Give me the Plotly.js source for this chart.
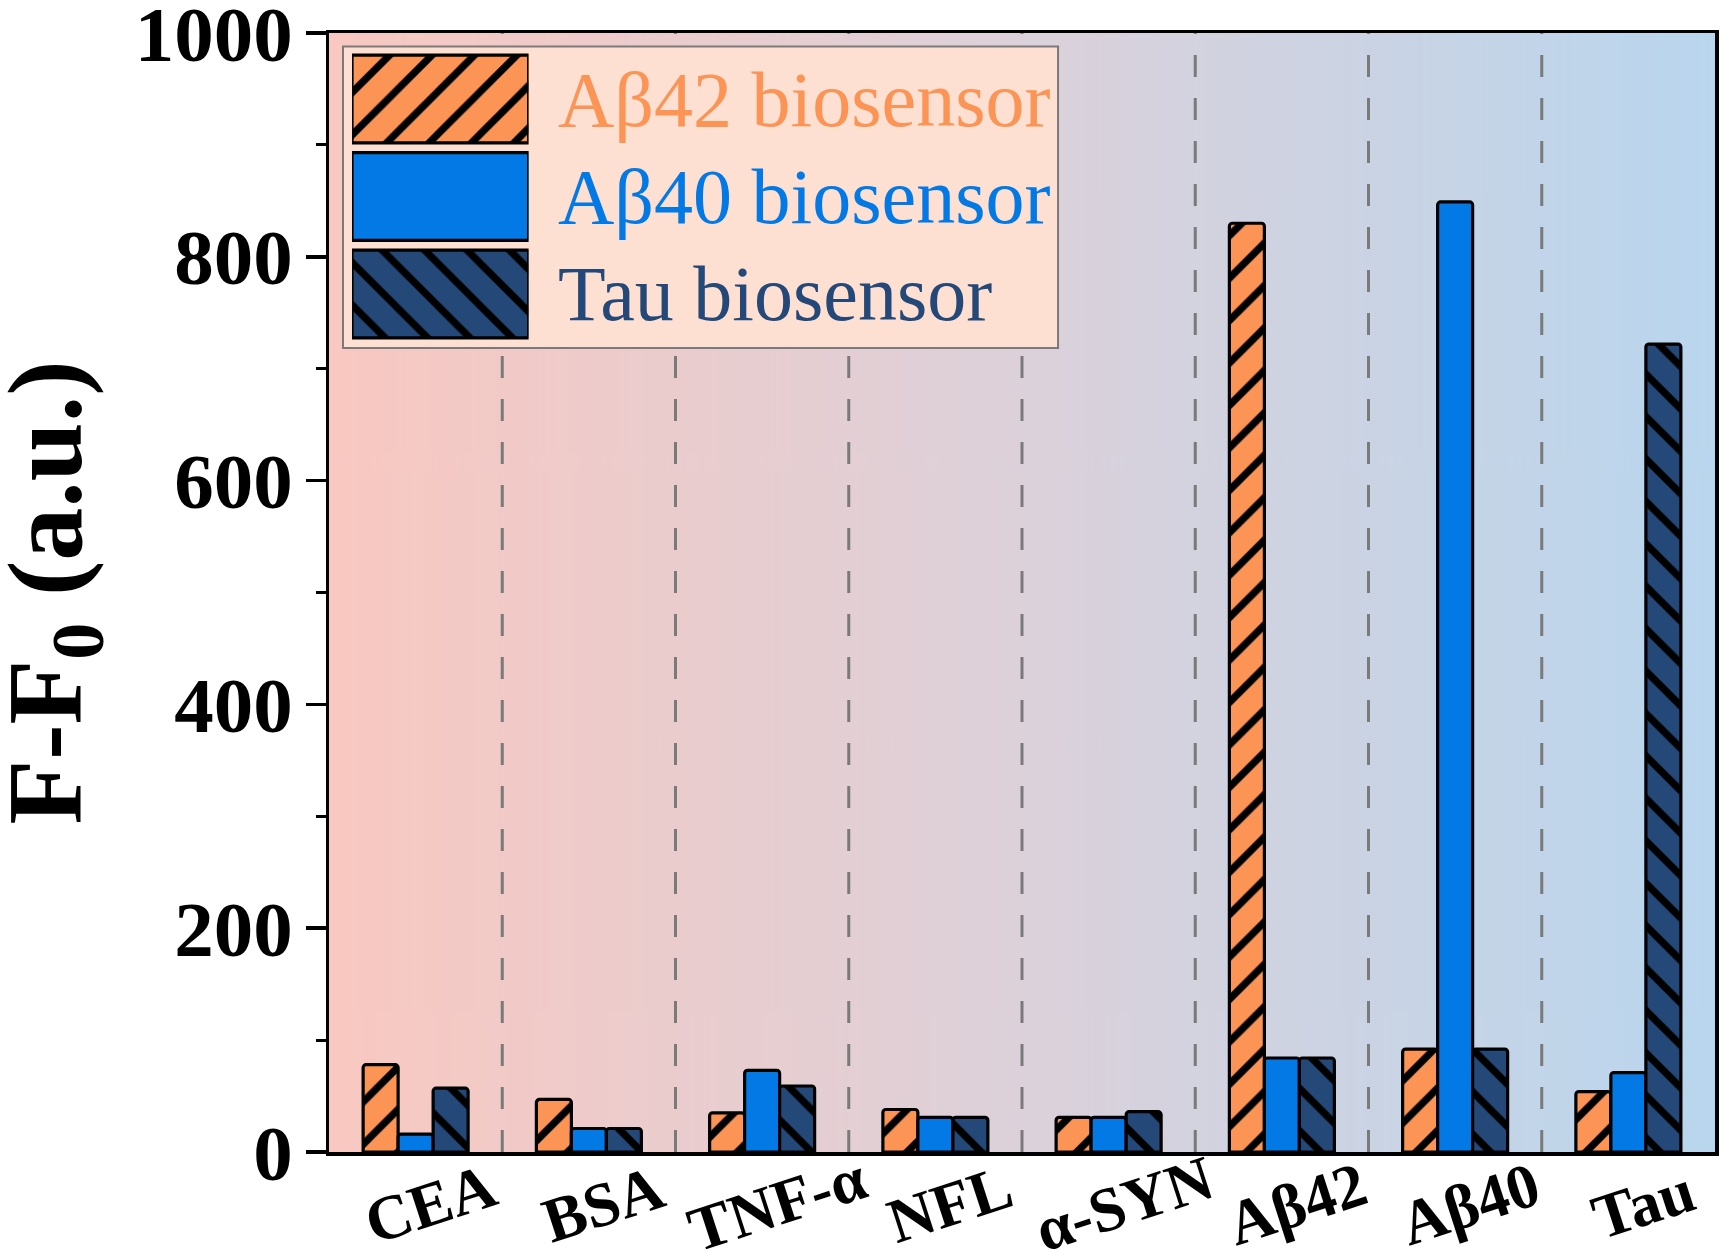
<!DOCTYPE html>
<html>
<head>
<meta charset="utf-8">
<script src="https://cdn.plot.ly/plotly-3.0.1.min.js"></script>
<style>html,body{margin:0;padding:0;background:#fff;}#chart{width:1723px;height:1249px;}</style>
</head>
<body>
<div id="chart"></div>
<script>
const categories = ['CEA', 'BSA', 'TNF-α', 'NFL', 'α-SYN', 'Aβ42', 'Aβ40', 'Tau'];
const seriesNames = ['Aβ42 biosensor', 'Aβ40 biosensor', 'Tau biosensor'];
const ab42Values = [78, 47, 35, 38, 31, 830, 92, 54];
const ab40Values = [16, 21, 73, 31, 31, 84, 849, 71];
const tauValues  = [57, 21, 59, 31, 36, 84, 92, 722];
const yTickValues = [0, 200, 400, 600, 800, 1000];
const yTitle = 'F-F<sub>0</sub> (a.u.)';

const seriesColors = ['#FB9455', '#0379E6', '#244878'];
const seriesPatterns = ['/', '', '\\'];
const seriesValues = [ab42Values, ab40Values, tauValues];

// background gradient
const cv = document.createElement('canvas');
cv.width = 600; cv.height = 4;
const ctx = cv.getContext('2d');
const g = ctx.createLinearGradient(0, 0, 600, 0);
g.addColorStop(0, '#F9C8C1');
g.addColorStop(0.5, '#DCD1DA');
g.addColorStop(1, '#B9D6EE');
ctx.fillStyle = g;
ctx.fillRect(0, 0, 600, 4);
const bgURL = cv.toDataURL('image/png');

function markerFor(i) {
  return {
    color: seriesColors[i],
    line: {color: '#000', width: 3.2},
    pattern: {shape: seriesPatterns[i], fillmode: 'overlay', bgcolor: seriesColors[i],
      fgcolor: '#000', fgopacity: 1, size: 30, solidity: 0.24}
  };
}

const traces = seriesNames.map((name, i) => {
  const m = markerFor(i);
  m.cornerradius = 3;
  return {type: 'bar', name: name, x: categories, y: seriesValues[i], showlegend: false,
    marker: m, hoverinfo: 'skip'};
});

// legend swatches (one bar per series, on a small helper axis pair)
seriesNames.forEach((name, i) => {
  traces.push({
    type: 'bar', orientation: 'h', name: name,
    y: [name], x: [1], width: 0.9, offsetgroup: 'legendswatch',
    xaxis: 'x2', yaxis: 'y2', showlegend: false, hoverinfo: 'skip',
    marker: markerFor(i)
  });
});

const shapes = [];
for (let k = 0; k < categories.length - 1; k++) {
  shapes.push({type: 'line', xref: 'x', yref: 'paper', x0: k + 0.5, x1: k + 0.5, y0: 0, y1: 1,
    line: {color: '#7a7a7a', width: 3, dash: '22px,21px'}, layer: 'between'});
}
shapes.push({type: 'rect', xref: 'paper', yref: 'paper', x0: 0.0101, x1: 0.526, y0: 0.7185, y1: 0.988,
  fillcolor: '#FEE0D3', line: {color: '#7a7a7a', width: 2}, layer: 'between'});

const annotations = categories.map(c => ({
  x: c, y: 0, xref: 'x', yref: 'y', text: c, showarrow: false,
  xanchor: 'center', yanchor: 'middle', xshift: 15, yshift: -52, textangle: -18,
  font: {family: 'Liberation Serif', size: 63, color: '#000', weight: 'bold'}
}));
const legendY = [0.941, 0.854, 0.767];
seriesNames.forEach((n, i) => {
  annotations.push({x: 0.1638, y: legendY[i], xref: 'paper', yref: 'paper', text: n, showarrow: false,
    xanchor: 'left', yanchor: 'middle',
    font: {family: 'Liberation Serif', size: 78, color: seriesColors[i]}});
});
// y-axis title
annotations.push({x: 0, y: 0.5, xref: 'paper', yref: 'paper', text: yTitle, showarrow: false,
  xanchor: 'center', yanchor: 'middle', xshift: -277, textangle: -90,
  font: {family: 'Liberation Serif', size: 106, color: '#000', weight: 'bold'}});

const layout = {
  width: 1723, height: 1249,
  margin: {l: 329, r: 8, t: 33, b: 97},
  paper_bgcolor: '#fff',
  plot_bgcolor: 'rgba(0,0,0,0)',
  barmode: 'group',
  bargap: 0.394,
  bargroupgap: 0,
  showlegend: false,
  images: [{source: bgURL, xref: 'paper', yref: 'paper', x: 0, y: 1, sizex: 1, sizey: 1,
    sizing: 'stretch', xanchor: 'left', yanchor: 'top', layer: 'below'}],
  xaxis: {
    type: 'category', range: [-0.5, 7.5], showticklabels: false, ticks: '',
    showline: true, linecolor: '#000', linewidth: 3.5, mirror: true, showgrid: false, zeroline: false
  },
  yaxis: {
    range: [0, 1000], tickvals: yTickValues, ticks: 'outside', ticklen: 20, tickwidth: 3.5, tickcolor: '#000',
    minor: {dtick: 100, ticks: 'outside', ticklen: 10, tickwidth: 3, tickcolor: '#000', showgrid: false},
    showline: true, linecolor: '#000', linewidth: 3.5, mirror: true, showgrid: false, zeroline: false,
    ticklabelstandoff: -3, ticklabeloverflow: 'allow',
    tickfont: {family: 'Liberation Serif', size: 79, color: '#000', weight: 'bold'}
  },
  xaxis2: {domain: [0.0166, 0.144], range: [0, 1], visible: false, anchor: 'y2', fixedrange: true},
  yaxis2: {domain: [0.7232, 0.9846], type: 'category', categoryorder: 'array', categoryarray: seriesNames,
    autorange: 'reversed', visible: false, anchor: 'x2', fixedrange: true},
  shapes: shapes,
  annotations: annotations
};

Plotly.newPlot('chart', traces, layout, {staticPlot: true, displayModeBar: false});
</script>
</body>
</html>
